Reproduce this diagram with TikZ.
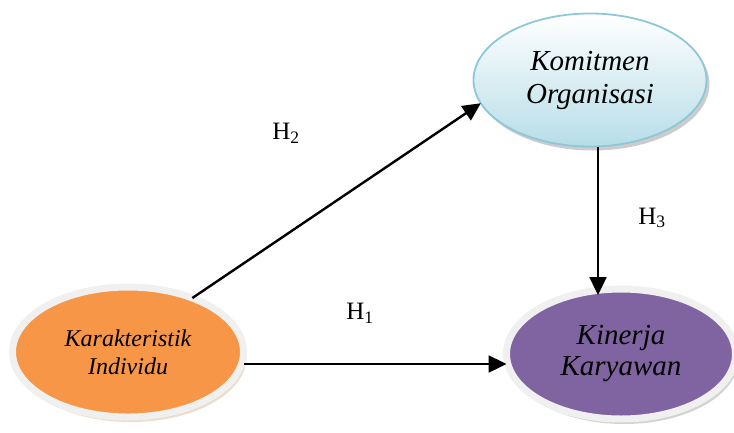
\documentclass[tikz,border=0pt]{standalone}
\usepackage{fontspec}
\setmainfont{Liberation Serif}
\usepackage{xcolor}
\usetikzlibrary{shapes.geometric,shadows,arrows.meta}

\definecolor{karakorange}{HTML}{F79646}
\definecolor{kinerjapurple}{HTML}{8064A2}
\definecolor{komitblue}{HTML}{B7DDE8}
\definecolor{komitborder}{HTML}{8CC8D8}
\definecolor{rimgray}{HTML}{F0F0F0}

\tikzset{
  rimmed/.style={ellipse,draw=rimgray,line width=7pt,outer sep=0pt,align=center,
    font=\itshape\fontsize{24}{28}\selectfont},
  arr/.style={-{Triangle[length=18pt,width=17pt]},line width=2.4pt},
  hlabel/.style={font=\fontsize{25}{28}\selectfont}
}

\begin{document}
\begin{tikzpicture}[x=1pt, y=-1pt]
  \useasboundingbox (0,0) rectangle (734,432);
  % Nodes
  \node[rimmed,fill=karakorange,minimum width=231pt,minimum height=130pt,
        drop shadow={shadow xshift=3pt,shadow yshift=-5pt,fill=brown!55!white}]
        (Karak) at (128,352) {Karakteristik\\Individu};

  \node[ellipse,draw=komitborder,line width=1.8pt,outer sep=0pt,top color=white,bottom color=komitblue,
        minimum width=233pt,minimum height=133pt,align=center,
        font=\itshape\fontsize{29}{33}\selectfont,
        drop shadow={shadow xshift=3pt,shadow yshift=-4pt,fill=black!40}]
        (Komit) at (590,80) {Komitmen\\Organisasi};

  \node[rimmed,fill=kinerjapurple,minimum width=229pt,minimum height=130pt,
        font=\itshape\fontsize{29}{31}\selectfont,
        drop shadow={shadow xshift=3pt,shadow yshift=-5pt,fill=black!35}]
        (Kinerja) at (621,354) {Kinerja\\Karyawan};

  \node[hlabel] (H1) at (360,313) {H\textsubscript{1}};
  \node[hlabel] (H2) at (286,133) {H\textsubscript{2}};
  \node[hlabel] (H3) at (652,218) {H\textsubscript{3}};

  % Edges
  \draw[arr] (Karak.40) -- (Komit.192);
  \draw[arr] ([xshift=8pt]Komit.south) -- ([xshift=8pt,yshift=-6pt]Komit.south |- Kinerja.north);
  \draw[arr] ([yshift=-12pt]Karak.east) -- ([yshift=-12pt]Karak.east -| Kinerja.west);
\end{tikzpicture}
\end{document}
